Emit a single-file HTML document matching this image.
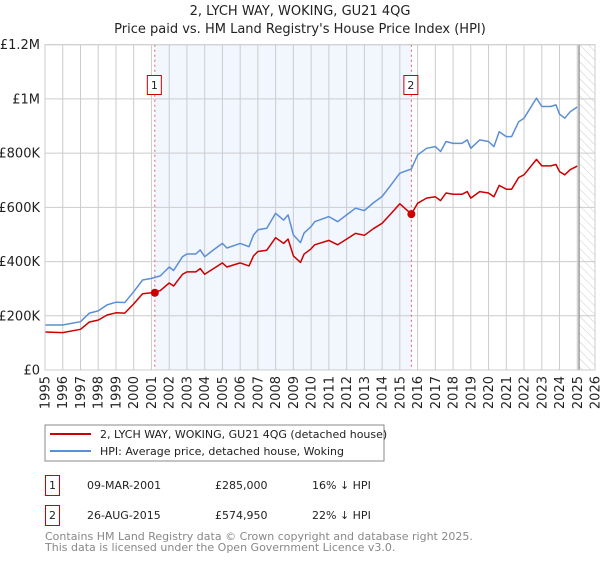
<!DOCTYPE html>
<html><head><meta charset="utf-8"><style>
body{margin:0;background:#fff;font-family:"DejaVu Sans","Liberation Sans",sans-serif;}
svg text{font-family:"DejaVu Sans","Liberation Sans",sans-serif;}
</style></head><body>
<svg id="chart" width="600" height="560" viewBox="0 0 600 560">
<defs><pattern id="hatch" width="6" height="6" patternUnits="userSpaceOnUse" patternTransform="rotate(-45)"><line x1="0" y1="0" x2="0" y2="6" stroke="#ccc" stroke-width="1"/></pattern></defs>
<text x="300" y="15" text-anchor="middle" font-size="13" fill="#222">2, LYCH WAY, WOKING, GU21 4QG</text>
<text x="300" y="33" text-anchor="middle" font-size="13" fill="#222">Price paid vs. HM Land Registry's House Price Index (HPI)</text>
<g id="plot"></g>
<rect x="45" y="425" width="339" height="36" fill="#fff" stroke="#888"/>
<line x1="50" y1="434" x2="91" y2="434" stroke="#cc0000" stroke-width="2"/>
<text x="100" y="438" font-size="11" fill="#222">2, LYCH WAY, WOKING, GU21 4QG (detached house)</text>
<line x1="50" y1="451" x2="91" y2="451" stroke="#5b8fd4" stroke-width="2"/>
<text x="100" y="455" font-size="11" fill="#222">HPI: Average price, detached house, Woking</text>
<g>
<rect x="45.5" y="475.5" width="14" height="20" fill="none" stroke="#cc0000"/>
<text x="52.5" y="489" text-anchor="middle" font-size="11" fill="#222">1</text>
<text x="87" y="489" font-size="11" fill="#222">09-MAR-2001</text>
<text x="215" y="489" font-size="11" fill="#222">£285,000</text>
<text x="312" y="489" font-size="11" fill="#222">16% ↓ HPI</text>
</g>
<g>
<rect x="45.5" y="505.5" width="14" height="20" fill="none" stroke="#cc0000"/>
<text x="52.5" y="519" text-anchor="middle" font-size="11" fill="#222">2</text>
<text x="87" y="519" font-size="11" fill="#222">26-AUG-2015</text>
<text x="215" y="519" font-size="11" fill="#222">£574,950</text>
<text x="312" y="519" font-size="11" fill="#222">22% ↓ HPI</text>
</g>
<text x="45" y="540" font-size="11" fill="#888">Contains HM Land Registry data © Crown copyright and database right 2025.</text>
<text x="45" y="551" font-size="11" fill="#888">This data is licensed under the Open Government Licence v3.0.</text>
</svg>
<script>
const dates=[1995,1996,1997,1997.5,1998,1998.5,1999,1999.5,2000,2000.5,2001,2001.5,2002,2002.25,2002.75,2003,2003.5,2003.75,2004,2004.5,2005,2005.25,2006,2006.5,2006.75,2007,2007.5,2008,2008.45,2008.7,2009,2009.4,2009.6,2010,2010.2,2011,2011.5,2012,2012.5,2013,2013.5,2014,2014.5,2015,2015.65,2016,2016.5,2017,2017.3,2017.6,2018,2018.5,2018.8,2019,2019.5,2020,2020.3,2020.6,2021,2021.3,2021.7,2022,2022.7,2023,2023.5,2023.8,2024,2024.3,2024.6,2025];
const hpiValues=[166,166,178,210,218,240,250,249,289,332,338,347,380,367,418,428,428,443,418,443,467,450,467,455,498,517,523,578,553,572,498,470,505,529,547,566,547,572,597,588,616,640,683,726,742,793,818,824,806,843,836,836,849,818,849,843,824,879,861,861,916,929,1003,972,972,978,944,929,953,970];
const priceValues=[140,138,150,177,184,203,211,210,244,281,285,293,321,310,353,362,362,374,353,374,395,380,395,384,421,437,442,488,467,483,421,397,427,447,462,478,462,483,504,497,521,541,577,613,575,615,634,639,625,653,648,648,658,634,658,653,639,681,667,667,710,720,777,753,753,758,732,720,739,752];
const saleDates=[2001.19,2015.65];
const salePrices=[285,574.95];
const saleLabels=['1','2'];
const yTicks=[0,200,400,600,800,1000,1200];
const yTickLabels=['£0','£200K','£400K','£600K','£800K','£1M','£1.2M'];
const xYears=[];for(let y=1995;y<=2026;y++)xYears.push(y);

const L=45,R=595,T=44.7,B=370,x0=1995,x1=2026;
const X=v=>L+(v-x0)/(x1-x0)*(R-L);
const Y=v=>B-v/1200*(B-T);
const NS='http://www.w3.org/2000/svg';
const g=document.getElementById('plot');
function mk(tag,attrs,parent){const e=document.createElementNS(NS,tag);for(const k in attrs)e.setAttribute(k,attrs[k]);(parent||g).appendChild(e);return e;}

let e=mk('rect',{x:X(saleDates[0]),y:T,width:X(saleDates[1])-X(saleDates[0]),height:B-T,fill:'#eef3fd',opacity:0.75});


e=mk('rect',{x:X(2025.1),y:T,width:R-X(2025.1),height:B-T,fill:'url(#hatch)'});



yTicks.forEach((t,i)=>{
  let l=mk('line',{x1:L,x2:R,y1:Y(t),y2:Y(t),stroke:'#ccc','stroke-width':1});
  
  
  let tx=mk('text',{x:40,y:Y(t)+4.5,'text-anchor':'end','font-size':13,fill:'#222'});
  tx.textContent=yTickLabels[i];
  
  
});
xYears.forEach(yr=>{
  let l=mk('line',{x1:X(yr),x2:X(yr),y1:T,y2:B,stroke:'#ccc','stroke-width':1});
  
  
  let tx=mk('text',{x:0,y:0,'text-anchor':'end','font-size':13,fill:'#222',transform:`translate(${X(yr)+4.5},376) rotate(-90)`});
  tx.textContent=yr;
  
  
});
e=mk('line',{x1:X(2025.1),x2:X(2025.1),y1:T,y2:B,stroke:'#999','stroke-width':1.5});



saleDates.forEach((d,i)=>{
  let l=mk('line',{x1:X(d),x2:X(d),y1:T,y2:B,stroke:'#e06060','stroke-width':1,'stroke-dasharray':'2,3'});
  
  
});

const pts=(arr)=>arr.map((v,i)=>X(dates[i]).toFixed(1)+','+Y(v).toFixed(1)).join(' ');
e=mk('polyline',{points:pts(hpiValues),fill:'none',stroke:'#5b8fd4','stroke-width':1.5,'stroke-linejoin':'round'});


e=mk('polyline',{points:pts(priceValues),fill:'none',stroke:'#cc0000','stroke-width':1.5,'stroke-linejoin':'round'});



saleDates.forEach((d,i)=>{
  let c=mk('circle',{cx:X(d),cy:Y(salePrices[i]),r:4,fill:'#cc0000'});
  
  
  let r=mk('rect',{x:X(d)-7.5,y:75.5,width:14,height:19,fill:'#fff',stroke:'#cc0000'});
  
  
  let t=mk('text',{x:X(d)-0.5,y:89,'text-anchor':'middle','font-size':11,fill:'#222'});
  t.textContent=saleLabels[i];
  
  
});
e=mk('rect',{x:L,y:T,width:R-L,height:B-T,fill:'none',stroke:'#ccc'});


</script>
</body></html>
